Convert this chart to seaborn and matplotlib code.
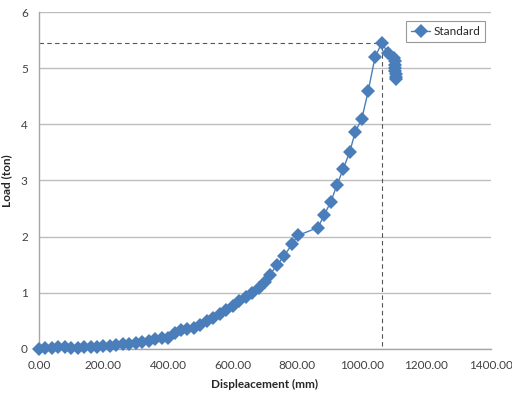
import matplotlib
matplotlib.use("Agg")
import matplotlib.pyplot as plt
import seaborn as sns
import pandas as pd

displacement = [0, 20, 40, 60, 80, 100, 120, 140, 160, 180, 200, 220, 240, 260, 280,
                300, 320, 340, 360, 380, 400, 420, 440, 460, 480, 500, 520, 540, 560,
                580, 600, 620, 640, 660, 680, 700, 715, 737, 760, 783, 802, 864, 883,
                904, 923, 942, 962, 980, 1000, 1020, 1041, 1062, 1081, 1100, 1102,
                1103, 1104, 1104, 1105, 1105, 1105]
load = [0, 0.01, 0.02, 0.04, 0.03, 0.02, 0.02, 0.03, 0.03, 0.04, 0.05, 0.06, 0.07,
        0.08, 0.09, 0.10, 0.12, 0.14, 0.17, 0.19, 0.20, 0.28, 0.34, 0.36, 0.37, 0.43,
        0.50, 0.55, 0.62, 0.70, 0.77, 0.86, 0.93, 1.00, 1.08, 1.20, 1.32, 1.49, 1.66,
        1.86, 2.02, 2.16, 2.38, 2.62, 2.92, 3.20, 3.50, 3.87, 4.10, 4.60, 5.20, 5.45,
        5.27, 5.18, 5.12, 5.05, 5.00, 4.95, 4.90, 4.85, 4.80]
series_name = "Standard"
peak_x = 1062
peak_y = 5.45
x_ticks = [0, 200, 400, 600, 800, 1000, 1200, 1400]
y_ticks = [0, 1, 2, 3, 4, 5, 6]

df = pd.DataFrame({"Displacement": displacement, "Load": load, "Series": series_name})

sns.set_style("white")
plt.rcParams["font.family"] = ["Lato", "DejaVu Sans"]

fig = plt.figure(figsize=(5.12, 4.01), dpi=100)
ax = fig.add_axes([0.076, 0.13, 0.883, 0.84])

blue = "#4A7EBB"
sns.lineplot(data=df, x="Displacement", y="Load", hue="Series", palette=[blue],
             marker="D", markersize=7.5, markeredgewidth=0, linewidth=1.0,
             estimator=None, sort=False, ax=ax, clip_on=False, zorder=3)

ax.plot([0, peak_x], [peak_y, peak_y], ls=(0, (4, 3)), color="#555555", lw=0.8, zorder=1)
ax.plot([peak_x, peak_x], [0.05, peak_y], ls=(0, (4, 3)), color="#555555", lw=0.8, zorder=1)

ax.set_xlim(0, 1400)
ax.set_ylim(0, 6)
ax.set_xticks(x_ticks)
ax.set_xticklabels([f"{v:.2f}" for v in x_ticks])
ax.set_yticks(y_ticks)
ax.set_yticklabels([str(v) for v in y_ticks])
ax.yaxis.grid(True, color="#BDBDBD", lw=1.0)
ax.set_axisbelow(True)

for s in ["top", "right"]:
    ax.spines[s].set_visible(False)
for s in ["left", "bottom"]:
    ax.spines[s].set_color("#A6A6A6")
    ax.spines[s].set_linewidth(1.0)
ax.tick_params(axis="both", which="both", direction="out", length=4, width=1,
               color="#A6A6A6", labelsize=8.5, labelcolor="#404040", pad=4)

ax.set_xlabel("Displeacement (mm)", fontsize=8.5, fontweight="bold", labelpad=6)
ax.set_ylabel("Load (ton)", fontsize=8.5, fontweight="bold", labelpad=6)

leg = ax.legend(loc="upper right", bbox_to_anchor=(1.0, 0.99), fontsize=8.5,
                frameon=True, fancybox=False, handlelength=1.6, handletextpad=0.3,
                borderpad=0.4)
leg.get_frame().set_edgecolor("#808080")
leg.get_frame().set_linewidth(0.8)

fig.savefig("out.png", dpi=100)
